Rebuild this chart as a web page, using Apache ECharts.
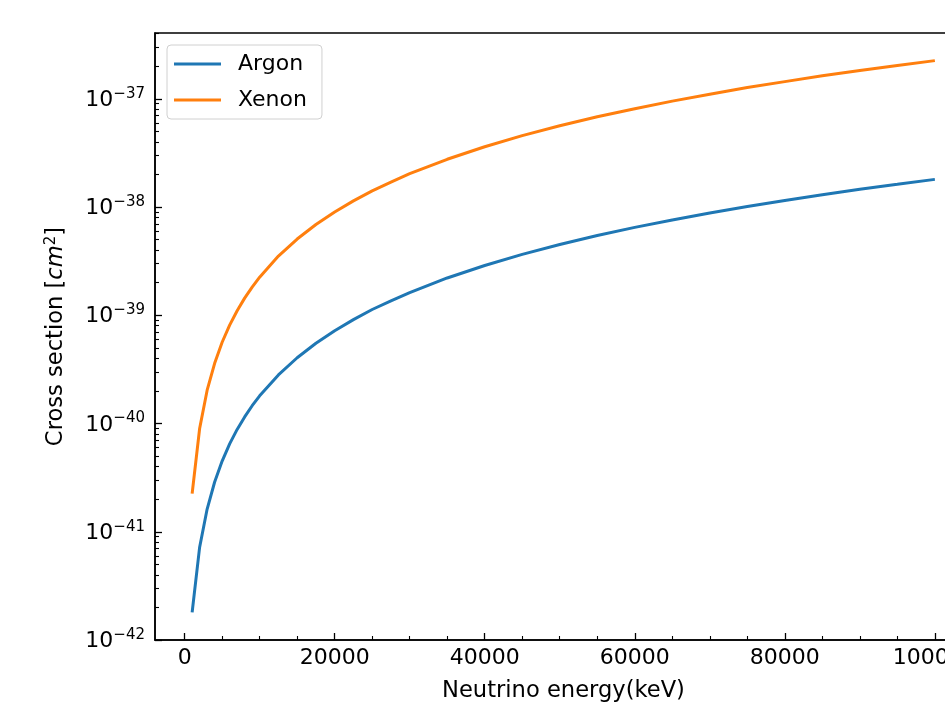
<!DOCTYPE html>
<html lang="en">
<head>
<meta charset="UTF-8">
<title>Cross section</title>
<script src="https://cdn.jsdelivr.net/npm/echarts@6/dist/echarts.min.js"></script>
<style>html,body{margin:0;padding:0;background:#fff;}</style>
</head>
<body>
<div id="chart" style="width:945px;height:709px;"></div>
<script>
// neutrino energy (keV)
var energy = [1000, 2000, 3000, 4000, 5000, 6000, 7000, 8000, 9000, 10000,
    12500, 15000, 17500, 20000, 22500, 25000, 27500, 30000,
    35000, 40000, 45000, 50000, 55000, 60000, 65000, 70000, 75000, 80000, 85000, 90000, 95000, 100000];
// cross section (cm^2)
var argon = [1.8e-42, 7.2e-42, 1.62e-41, 2.88e-41, 4.5e-41, 6.48e-41, 8.82e-41, 1.15e-40, 1.46e-40, 1.8e-40,
    2.81e-40, 4.05e-40, 5.51e-40, 7.2e-40, 9.11e-40, 1.13e-39, 1.36e-39, 1.62e-39,
    2.21e-39, 2.88e-39, 3.65e-39, 4.5e-39, 5.45e-39, 6.48e-39, 7.6e-39, 8.82e-39, 1.01e-38, 1.15e-38, 1.3e-38, 1.46e-38, 1.62e-38, 1.8e-38];
var xenon = [2.25e-41, 9.0e-41, 2.03e-40, 3.6e-40, 5.63e-40, 8.1e-40, 1.1e-39, 1.44e-39, 1.82e-39, 2.25e-39,
    3.52e-39, 5.06e-39, 6.89e-39, 9.0e-39, 1.14e-38, 1.41e-38, 1.7e-38, 2.03e-38,
    2.76e-38, 3.6e-38, 4.56e-38, 5.63e-38, 6.81e-38, 8.1e-38, 9.51e-38, 1.1e-37, 1.27e-37, 1.44e-37, 1.63e-37, 1.82e-37, 2.03e-37, 2.25e-37];

var xMajor = [0, 20000, 40000, 60000, 80000, 100000];
var xMinor = [5000, 10000, 15000, 25000, 30000, 35000, 45000, 50000, 55000,
    65000, 70000, 75000, 85000, 90000, 95000];
var yMin = 1e-42, yMax = 4.05e-37;

// minor log ticks 2..9 x 10^n (as exponents, for the tick overlay axis)
var yMinor = [];
for (var n = -42; n <= -37; n++) {
    for (var k = 2; k <= 9; k++) {
        var v = k * Math.pow(10, n);
        if (v < yMax) yMinor.push(Math.log10(v));
    }
}

var font = 'DejaVu Sans';
var black = '#000';
var chart = echarts.init(document.getElementById('chart'));

function pair(ys) {
    return energy.map(function (e, i) { return [e, ys[i]]; });
}

chart.setOption({
    animation: false,
    backgroundColor: '#fff',
    textStyle: { fontFamily: font },
    grid: {
        left: 155, top: 33, right: -27, bottom: 69,
        outerBoundsMode: 'none',
        show: true, borderColor: black, borderWidth: 1.5, backgroundColor: 'transparent'
    },
    legend: {
        left: 167, top: 45,
        orient: 'vertical',
        icon: 'rect',
        itemWidth: 47, itemHeight: 3, itemGap: 14,
        padding: [8, 15, 8, 7],
        backgroundColor: 'rgba(255,255,255,0.8)',
        borderColor: '#d0d0d0', borderWidth: 1, borderRadius: 4,
        textStyle: { fontSize: 22, lineHeight: 22, color: black, fontFamily: font, padding: [0, 0, 0, 12] },
        data: ['Argon', 'Xenon']
    },
    xAxis: [{
        type: 'value',
        min: -3950, max: 104950,
        name: 'Neutrino energy(keV)',
        nameLocation: 'middle', nameGap: 40,
        nameTextStyle: { fontSize: 22.6, color: black, fontFamily: font },
        axisLine: { show: true, onZero: false, lineStyle: { color: black, width: 1.5 } },
        axisTick: { show: true, inside: true, length: 7, lineStyle: { color: black, width: 1.3 }, customValues: xMajor },
        axisLabel: {
            customValues: xMajor, fontSize: 22, color: black, margin: 7, fontFamily: font,
            formatter: function (v) { return String(v); }
        },
        splitLine: { show: false }
    }, {
        type: 'value',
        position: 'bottom',
        min: -3950, max: 104950,
        axisLine: { show: false, onZero: false },
        axisTick: { show: true, inside: true, length: 4, lineStyle: { color: black, width: 1.1 }, customValues: xMinor },
        axisLabel: { show: false },
        splitLine: { show: false }
    }],
    yAxis: [{
        // data axis
        type: 'log', logBase: 10,
        position: 'left',
        min: yMin, max: yMax,
        axisLine: { show: true, onZero: false, lineStyle: { color: black, width: 1.5 } },
        axisTick: { show: false },
        axisLabel: { show: false },
        splitLine: { show: false }
    }, {
        // decade ticks and labels (exponent space)
        type: 'value',
        position: 'left',
        min: -42, max: Math.log10(yMax), interval: 1,
        name: 'Cross section [{i|cm}{s|2}]',
        nameLocation: 'middle', nameGap: 86, nameRotate: 90,
        nameTextStyle: {
            fontSize: 22.6, color: black, fontFamily: font,
            rich: {
                i: { fontSize: 22.6, fontStyle: 'italic', color: black, fontFamily: font },
                s: { fontSize: 15, color: black, fontFamily: font, padding: [0, 0, 10, 0] }
            }
        },
        axisLine: { show: false, onZero: false },
        axisTick: { show: true, inside: true, length: 7, lineStyle: { color: black, width: 1.3 } },
        axisLabel: {
            margin: 10, color: black, fontSize: 22, fontFamily: font,
            showMaxLabel: false,
            formatter: function (v) {
                return '{b|10}{s|\u2212' + Math.round(-v) + '}';
            },
            rich: {
                b: { fontSize: 22, color: black, fontFamily: font, verticalAlign: 'bottom' },
                s: { fontSize: 15, color: black, fontFamily: font, verticalAlign: 'bottom', padding: [0, 0, 10, 0] }
            }
        },
        splitLine: { show: false }
    }, {
        // minor log ticks
        type: 'value',
        position: 'left',
        min: -42, max: Math.log10(yMax),
        axisLine: { show: false, onZero: false },
        axisTick: { show: true, inside: true, length: 4, lineStyle: { color: black, width: 1.1 }, customValues: yMinor },
        axisLabel: { show: false },
        splitLine: { show: false }
    }],
    series: [{
        name: 'Argon', type: 'line', symbol: 'none',
        xAxisIndex: 0, yAxisIndex: 0,
        itemStyle: { color: '#1f77b4' },
        lineStyle: { color: '#1f77b4', width: 3 },
        data: pair(argon)
    }, {
        name: 'Xenon', type: 'line', symbol: 'none',
        xAxisIndex: 0, yAxisIndex: 0,
        itemStyle: { color: '#ff7f0e' },
        lineStyle: { color: '#ff7f0e', width: 3 },
        data: pair(xenon)
    }]
});
</script>
</body>
</html>
